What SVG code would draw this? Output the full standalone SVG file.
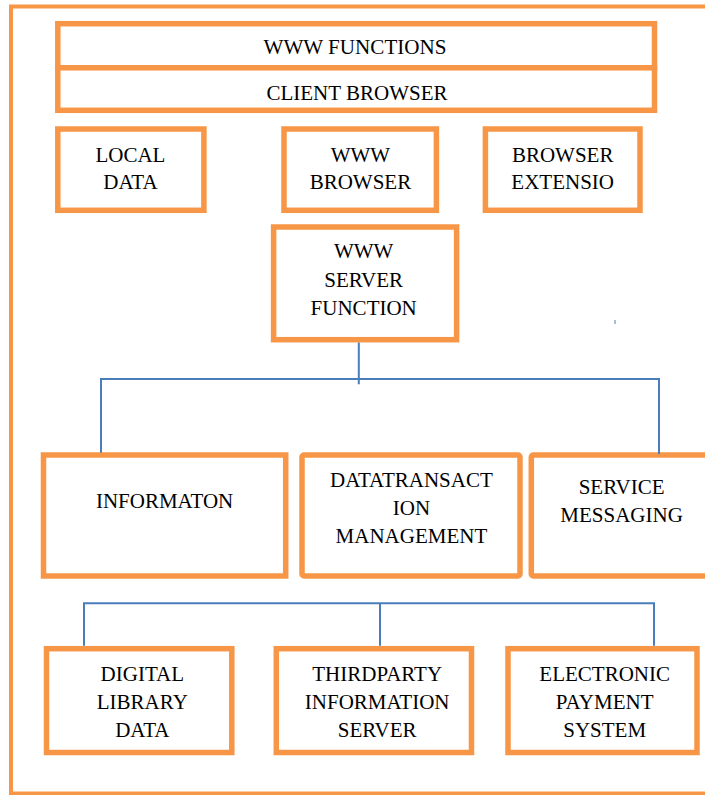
<svg xmlns="http://www.w3.org/2000/svg" width="705" height="795" viewBox="0 0 705 795">
<defs>
<rect id="unused" width="0" height="0"/>
</defs>
<rect x="0" y="0" width="705" height="795" fill="#ffffff"/>
<rect fill="none" stroke="#F79646" stroke-width="4" x="11" y="6.5" width="720" height="787"/>
<g fill="#ffffff" stroke="#F79646" stroke-width="5.5">
<rect id="box-www-functions" x="57.8" y="23.7" width="596.7" height="44.1"/>
<rect id="box-client-browser" x="57.8" y="67.8" width="596.7" height="42.5"/>
<rect id="box-local-data" x="57.8" y="129" width="146.1" height="81.3"/>
<rect id="box-www-browser" x="284" y="129" width="152.4" height="81.3"/>
<rect id="box-browser-extensio" x="485.4" y="129" width="154.6" height="81.3"/>
<rect id="box-www-server-function" x="273.6" y="227" width="183" height="112.7"/>
<rect id="box-informaton" x="43.5" y="455" width="242.2" height="121"/>
<rect id="box-datatransaction" x="302" y="455" width="218" height="121" rx="2"/>
<rect id="box-service-messaging" x="531.3" y="455" width="190" height="121" rx="2"/>
<rect id="box-digital-library" x="46.5" y="648.7" width="185.3" height="103.8"/>
<rect id="box-thirdparty" x="276.3" y="648.7" width="195.2" height="103.8"/>
<rect id="box-electronic-payment" x="508" y="648.7" width="189" height="103.8"/>
</g>
<g id="labels" fill="#000000" text-anchor="middle">
<text font-family="Liberation Serif" font-size="21" x="355" y="54.3" textLength="183" lengthAdjust="spacingAndGlyphs">WWW FUNCTIONS</text>
<text font-family="Liberation Serif" font-size="21" x="357" y="100">CLIENT BROWSER</text>
<text font-family="Liberation Serif" font-size="21" x="130.4" y="161.7">LOCAL</text>
<text font-family="Liberation Serif" font-size="21" x="130.4" y="189">DATA</text>
<text font-family="Liberation Serif" font-size="21" x="360.4" y="161.7">WWW</text>
<text font-family="Liberation Serif" font-size="21" x="360.4" y="189">BROWSER</text>
<text font-family="Liberation Serif" font-size="21" x="562.7" y="161.7">BROWSER</text>
<text font-family="Liberation Serif" font-size="21" x="562.7" y="189">EXTENSIO</text>
<text font-family="Liberation Serif" font-size="21" x="363.7" y="258.3">WWW</text>
<text font-family="Liberation Serif" font-size="21" x="363.7" y="286.7">SERVER</text>
<text font-family="Liberation Serif" font-size="21" x="363.7" y="315">FUNCTION</text>
<text font-family="Liberation Serif" font-size="21" x="164.6" y="508.3">INFORMATON</text>
<text font-family="Liberation Serif" font-size="21" x="411.4" y="486.7">DATATRANSACT</text>
<text font-family="Liberation Serif" font-size="21" x="411.4" y="515">ION</text>
<text font-family="Liberation Serif" font-size="21" x="411.4" y="543.3">MANAGEMENT</text>
<text font-family="Liberation Serif" font-size="21" x="621.6" y="494">SERVICE</text>
<text font-family="Liberation Serif" font-size="21" x="621.6" y="521.7">MESSAGING</text>
<text font-family="Liberation Serif" font-size="21" x="142.3" y="680.7">DIGITAL</text>
<text font-family="Liberation Serif" font-size="21" x="142.3" y="709">LIBRARY</text>
<text font-family="Liberation Serif" font-size="21" x="142.3" y="736.7">DATA</text>
<text font-family="Liberation Serif" font-size="21" x="377.2" y="680.7">THIRDPARTY</text>
<text font-family="Liberation Serif" font-size="21" x="377.2" y="709">INFORMATION</text>
<text font-family="Liberation Serif" font-size="21" x="377.2" y="736.7">SERVER</text>
<text font-family="Liberation Serif" font-size="21" x="604.7" y="680.7">ELECTRONIC</text>
<text font-family="Liberation Serif" font-size="21" x="604.7" y="709">PAYMENT</text>
<text font-family="Liberation Serif" font-size="21" x="604.7" y="736.7">SYSTEM</text>
</g>
<g id="connectors" fill="none" stroke="#4A7EBB" stroke-width="2">
<path d="M358.8 342.5 V384.3"/>
<path d="M101 452.7 V379 H659 V454"/>
<path d="M84 645.7 V603.3 H654 V645.7"/>
<path d="M380 603.3 V645.7"/>
<path d="M615 320 V324" stroke-width="1"/>
</g>
</svg>
